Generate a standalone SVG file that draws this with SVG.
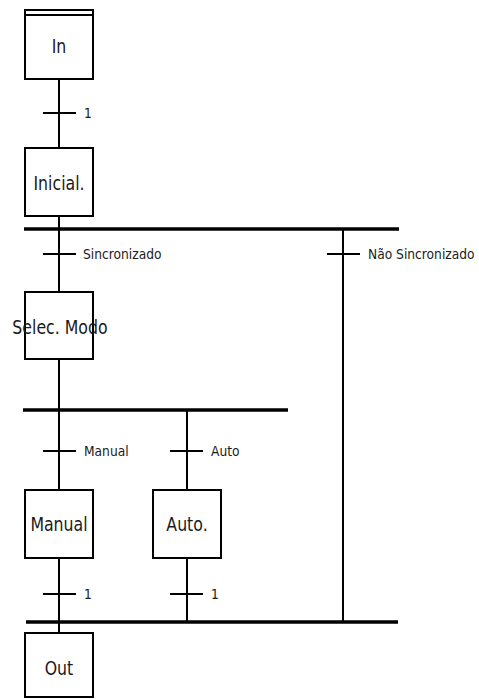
<svg xmlns="http://www.w3.org/2000/svg" width="479" height="699" viewBox="0 0 479 699">
<style>
.box{fill:#fff;stroke:#000;stroke-width:2}
.ln{stroke:#000;stroke-width:2;fill:none}
.bar{stroke:#000;stroke-width:3.5;fill:none}
.t{font-family:"DejaVu Sans",sans-serif;font-size:19px;fill:#1a1a1a;text-anchor:middle}
.s{font-family:"DejaVu Sans",sans-serif;font-size:13.5px;fill:#1a1a1a}
</style>
<rect width="479" height="699" fill="#fff"/>
<g id="connectors">
<line class="ln" x1="59" y1="79" x2="59" y2="148"/>
<line class="ln" x1="43" y1="113" x2="76" y2="113"/>
<line class="ln" x1="59" y1="216" x2="59" y2="229"/>
<line class="bar" x1="24" y1="229" x2="399" y2="229"/>
<line class="ln" x1="59" y1="229" x2="59" y2="292"/>
<line class="ln" x1="43" y1="254" x2="76" y2="254"/>
<line class="ln" x1="343" y1="229" x2="343" y2="622"/>
<line class="ln" x1="327" y1="254" x2="360" y2="254"/>
<line class="ln" x1="59" y1="359" x2="59" y2="410"/>
<line class="bar" x1="23" y1="410" x2="288" y2="410"/>
<line class="ln" x1="59" y1="410" x2="59" y2="490"/>
<line class="ln" x1="43" y1="451" x2="76" y2="451"/>
<line class="ln" x1="187" y1="410" x2="187" y2="490"/>
<line class="ln" x1="170" y1="451" x2="203" y2="451"/>
<line class="ln" x1="59" y1="558" x2="59" y2="633"/>
<line class="ln" x1="43" y1="594" x2="76" y2="594"/>
<line class="ln" x1="187" y1="558" x2="187" y2="622"/>
<line class="ln" x1="170" y1="594" x2="203" y2="594"/>
<line class="bar" x1="26" y1="622" x2="398" y2="622"/>
</g>
<g id="labels">
<text class="s" transform="translate(84,118) scale(0.91,1)">1</text>
<text class="s" transform="translate(83,259) scale(0.91,1)">Sincronizado</text>
<text class="s" transform="translate(368,259) scale(0.91,1)">Não Sincronizado</text>
<text class="s" transform="translate(84,456) scale(0.91,1)">Manual</text>
<text class="s" transform="translate(211,456) scale(0.91,1)">Auto</text>
<text class="s" transform="translate(84,599) scale(0.91,1)">1</text>
<text class="s" transform="translate(211,599) scale(0.91,1)">1</text>
</g>
<g id="In">
<rect class="box" x="25" y="10" width="68" height="69"/>
<line class="ln" x1="25" y1="15" x2="93" y2="15"/>
<text class="t" transform="translate(59,52.5) scale(0.83,1)">In</text>
</g>
<g id="Inicial">
<rect class="box" x="25" y="148" width="68" height="68"/>
<text class="t" transform="translate(59,190) scale(0.83,1)">Inicial.</text>
</g>
<g id="SelecModo">
<rect class="box" x="25" y="292" width="68" height="67"/>
<text class="t" transform="translate(60,334) scale(0.83,1)">Selec. Modo</text>
</g>
<g id="Manual">
<rect class="box" x="25" y="490" width="68" height="68"/>
<text class="t" transform="translate(59,531) scale(0.83,1)">Manual</text>
</g>
<g id="Auto">
<rect class="box" x="153" y="490" width="68" height="68"/>
<text class="t" transform="translate(187,531) scale(0.83,1)">Auto.</text>
</g>
<g id="Out">
<rect class="box" x="25" y="633" width="68" height="64"/>
<text class="t" transform="translate(59,675) scale(0.83,1)">Out</text>
</g>
</svg>
